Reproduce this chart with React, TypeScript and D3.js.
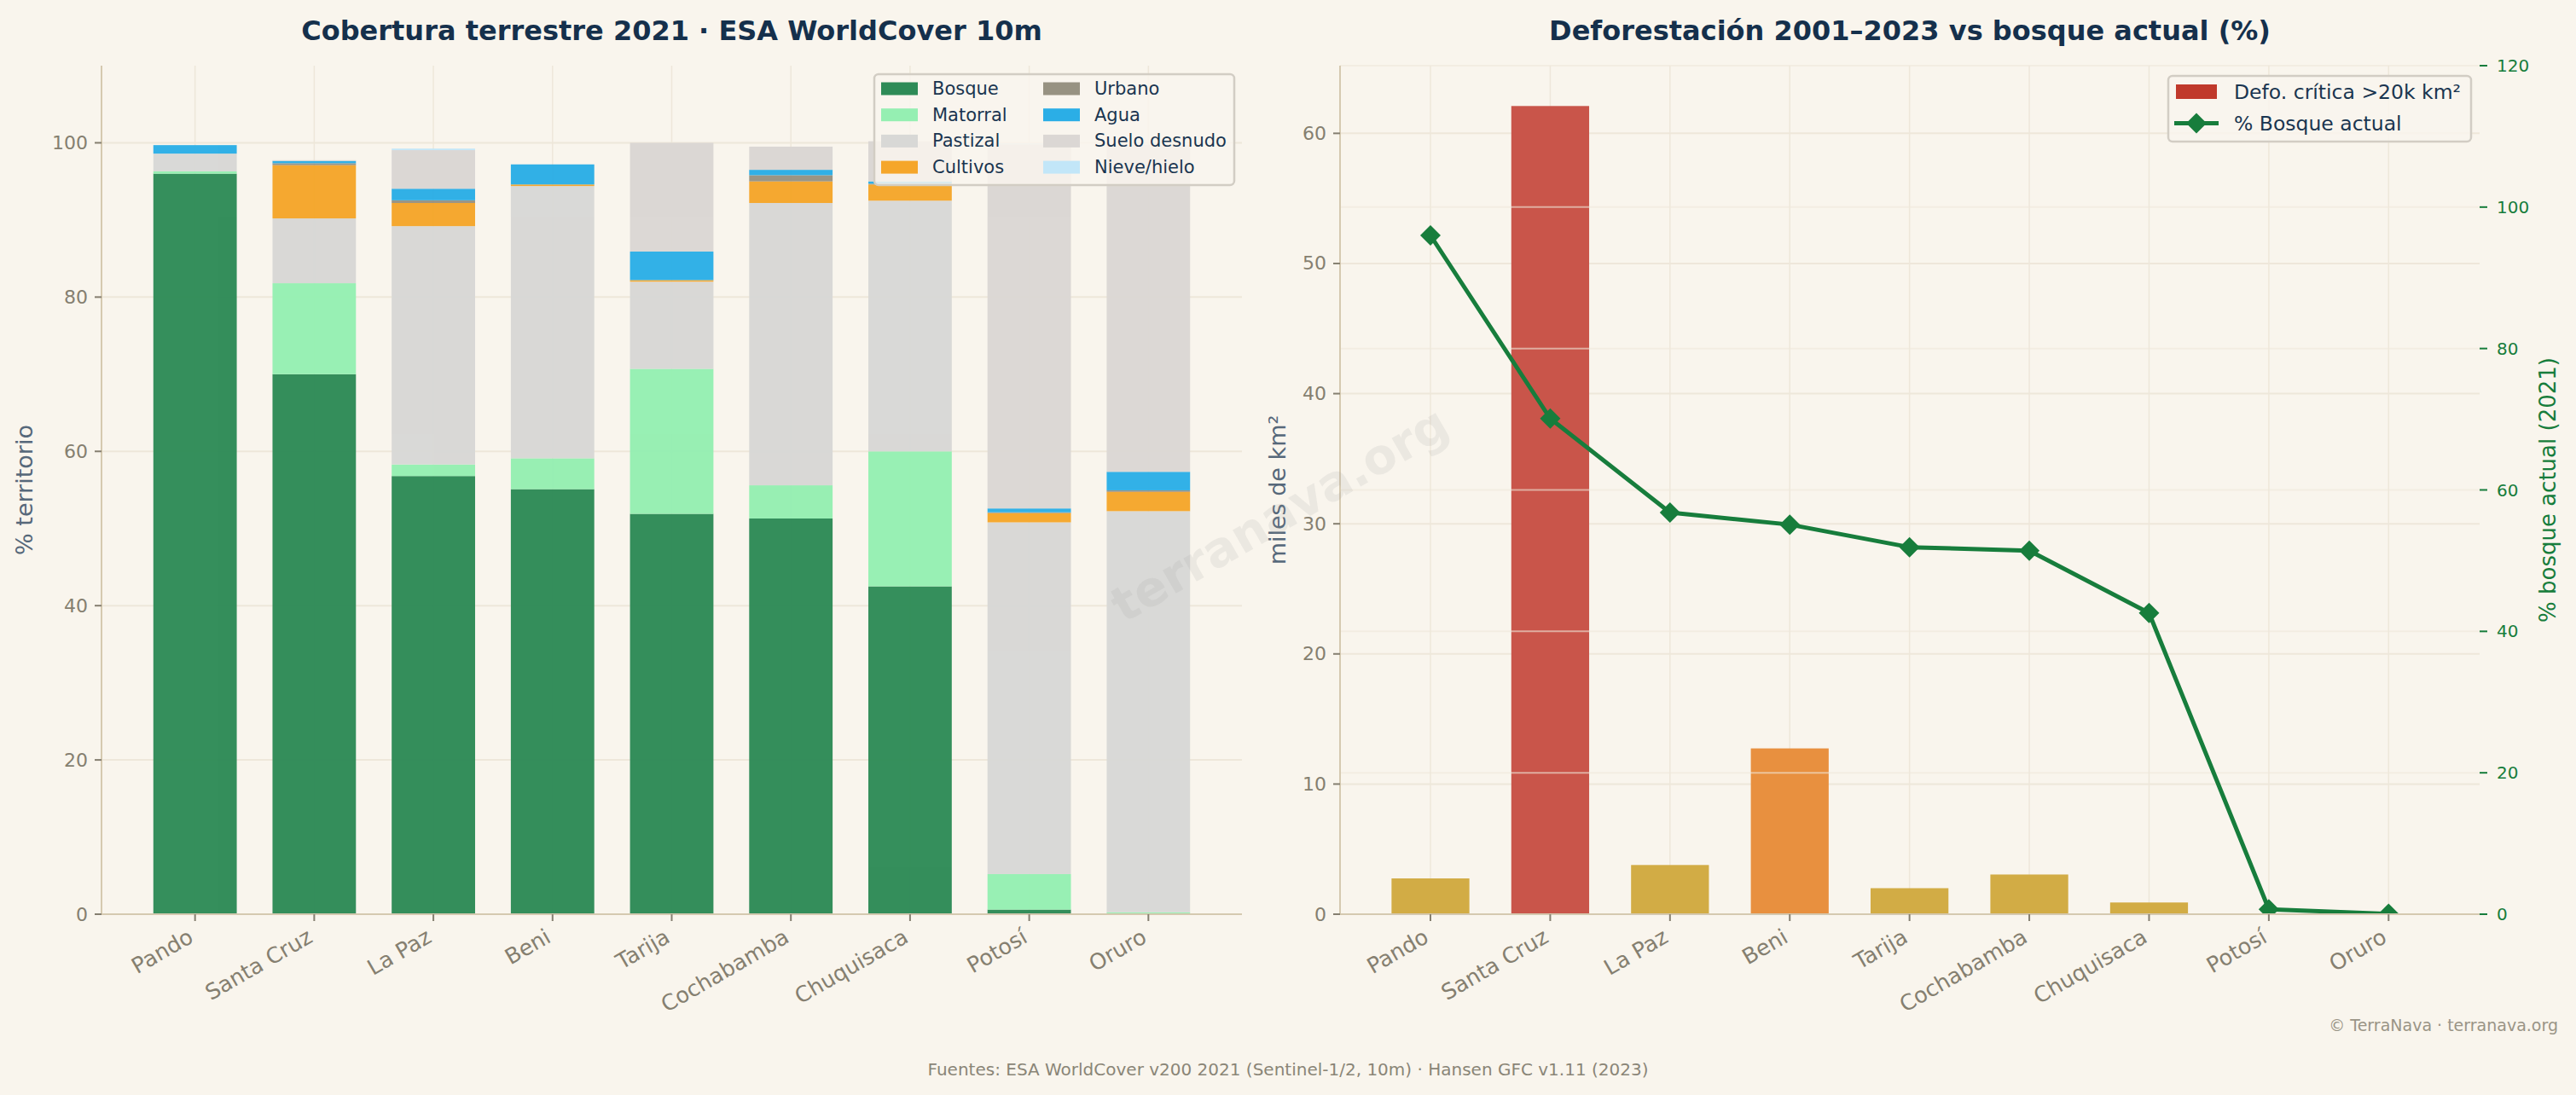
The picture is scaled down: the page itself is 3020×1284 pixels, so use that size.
import React from 'react';
import * as d3 from 'd3';

const categories = ['Pando', 'Santa Cruz', 'La Paz', 'Beni', 'Tarija', 'Cochabamba', 'Chuquisaca', 'Potosí', 'Oruro'];

// Land cover (% of territory), ESA WorldCover 2021
const bosque = [96.0, 70.0, 56.8, 55.1, 51.9, 51.3, 42.5, 0.6, 0.05];
const matorral = [0.3, 11.8, 1.5, 4.0, 18.8, 4.3, 17.5, 4.6, 0.2];
const pastizal = [2.3, 8.4, 30.9, 35.3, 11.3, 36.6, 32.5, 45.6, 52.0];
const cultivos = [0, 6.9, 3.0, 0.2, 0.2, 2.8, 2.1, 1.2, 2.5];
const urbano = [0, 0.25, 0.35, 0, 0, 0.8, 0.1, 0.1, 0.2];
const agua = [1.1, 0.3, 1.5, 2.6, 3.7, 0.7, 0.3, 0.5, 2.4];
const suelo = [0, 0.1, 5.0, 0, 14.1, 3.0, 5.2, 47.2, 42.4];
const nieve = [0, 0, 0.2, 0, 0, 0, 0, 0.1, 0];

const coverKeys = ['Bosque', 'Matorral', 'Pastizal', 'Cultivos', 'Urbano', 'Agua', 'Suelo desnudo', 'Nieve/hielo'];
const coverSeries = [bosque, matorral, pastizal, cultivos, urbano, agua, suelo, nieve];
const coverColors = ['#2e8b57', '#95efb2', '#d8d8d6', '#f5a62a', '#979282', '#2baee6', '#dbd7d4', '#c2e6f8'];

// Deforestation 2001-2023 (miles de km²) and current forest %
const defo = [2.75, 62.1, 3.78, 12.74, 2.0, 3.05, 0.9, 0.02, 0];
const bosqueActual = [96.0, 70.1, 56.8, 55.1, 51.9, 51.4, 42.6, 0.7, 0.05];

const leftTicks = [0, 20, 40, 60, 80, 100];
const rightTicksL = [0, 10, 20, 30, 40, 50, 60];
const rightTicksR = [0, 20, 40, 60, 80, 100, 120];

const FONT = 'DejaVu Sans';
const BG = '#f9f5ed';
const GRID = '#eee7da';
const SPINE = '#d5c9b0';
const TICK = '#857f70';
const NAVY = '#15304c';
const GREEN = '#177d3c';
const SLATE = '#56687a';

function defoColor(v: number) {
  if (v > 20) return '#c9554a';
  if (v > 10) return '#e8903f';
  return '#d2ac45';
}

export default function App() {
  const W = 3020, H = 1284;
  const L = { x0: 119, x1: 1456, y0: 77, y1: 1072 };
  const R = { x0: 1571, x1: 2907, y0: 77, y1: 1072 };
  const xl = d3.scaleLinear().domain([-0.785, 8.785]).range([L.x0, L.x1]);
  const yl = d3.scaleLinear().domain([0, 110]).range([L.y1, L.y0]);
  const xr = d3.scaleLinear().domain([-0.755, 8.76]).range([R.x0, R.x1]);
  const yr = d3.scaleLinear().domain([0, 65.2]).range([R.y1, R.y0]);
  const yr2 = d3.scaleLinear().domain([0, 120]).range([R.y1, R.y0]);

  const rows = categories.map((c, i) => {
    const o: any = { cat: c, idx: i };
    coverKeys.forEach((k, j) => (o[k] = coverSeries[j][i]));
    return o;
  });
  const stacked = d3.stack().keys(coverKeys)(rows as any);
  const bwL = (xl(0.35) - xl(-0.35));
  const bwR = (xr(0.325) - xr(-0.325));

  const line = d3.line<number>().x((_, i) => xr(i)).y((d) => yr2(d));
  const diamond = (s: number) => `M0,${-s}L${s},0L0,${s}L${-s},0Z`;

  const catLabel = (x: number, y: number, t: string, k: string) => (
    <text key={k} x={x} y={y} transform={`rotate(-30,${x},${y})`} textAnchor="end"
      dominantBaseline="hanging" fontSize={25.5} fill={TICK} fontFamily={FONT}>{t}</text>
  );

  return (
    <svg width={W} height={H} style={{ position: 'absolute', left: 0, top: 0 }} fontFamily={FONT}>
      <defs>
        <clipPath id="clipR"><rect x={R.x0} y={R.y0} width={R.x1 - R.x0} height={R.y1 - R.y0} /></clipPath>
      </defs>
      <rect width={W} height={H} fill={BG} />

      {/* ===== LEFT CHART ===== */}
      <text x={(L.x0 + L.x1) / 2} y={47} textAnchor="middle" fontSize={32} fontWeight="bold" fill={NAVY}>
        Cobertura terrestre 2021 · ESA WorldCover 10m
      </text>
      {leftTicks.map((t) => (
        <line key={'lg' + t} x1={L.x0} x2={L.x1} y1={yl(t)} y2={yl(t)} stroke={GRID} strokeWidth={2} />
      ))}
      {categories.map((c, i) => (
        <line key={'lv' + i} x1={xl(i)} x2={xl(i)} y1={L.y0} y2={L.y1} stroke={GRID} strokeWidth={1.5} />
      ))}
      {stacked.map((s, j) => (
        <g key={'s' + j} fill={coverColors[j]} opacity={0.97}>
          {s.map((d, i) => (d[1] - d[0] > 0 ? (
            <rect key={i} x={xl(i) - bwL / 2} width={bwL} y={yl(d[1])} height={yl(d[0]) - yl(d[1])} />
          ) : null))}
        </g>
      ))}
      <line x1={L.x0} x2={L.x0} y1={L.y0} y2={L.y1} stroke={SPINE} strokeWidth={2} />
      <line x1={L.x0} x2={L.x1} y1={L.y1} y2={L.y1} stroke={SPINE} strokeWidth={2} />
      {leftTicks.map((t) => (
        <g key={'lt' + t}>
          <line x1={L.x0 - 8} x2={L.x0} y1={yl(t)} y2={yl(t)} stroke={TICK} strokeWidth={2} />
          <text x={L.x0 - 16} y={yl(t)} textAnchor="end" dominantBaseline="central" fontSize={22} fill={TICK}>{t}</text>
        </g>
      ))}
      {categories.map((c, i) => (
        <g key={'lx' + i}>
          <line x1={xl(i)} x2={xl(i)} y1={L.y1} y2={L.y1 + 8} stroke={TICK} strokeWidth={2} />
          {catLabel(xl(i) - 10, L.y1 + 15, c, 'll' + i)}
        </g>
      ))}
      <text x={38} y={(L.y0 + L.y1) / 2} transform={`rotate(-90,38,${(L.y0 + L.y1) / 2})`} textAnchor="middle"
        fontSize={27} fill={SLATE}>% territorio</text>

      {/* left legend */}
      <g>
        <rect x={1025} y={87} width={422} height={130} rx={5} fill={BG} fillOpacity={0.85} stroke="#d2cdc4" strokeWidth={2.5} />
        {coverKeys.map((k, j) => {
          const col = Math.floor(j / 4), row = j % 4;
          const px = col === 0 ? 1033 : 1223;
          const tx = col === 0 ? 1093 : 1283;
          const cy = 104 + row * 30.7;
          return (
            <g key={'lgd' + j}>
              <rect x={px} y={cy - 7.5} width={43} height={15} fill={coverColors[j]} />
              <text x={tx} y={cy} dominantBaseline="central" fontSize={21} fill="#1a3550">{k}</text>
            </g>
          );
        })}
      </g>

      {/* ===== RIGHT CHART ===== */}
      <text x={(R.x0 + R.x1) / 2} y={47} textAnchor="middle" fontSize={32} fontWeight="bold" fill={NAVY}>
        Deforestación 2001–2023 vs bosque actual (%)
      </text>
      {rightTicksL.map((t) => (
        <line key={'rg' + t} x1={R.x0} x2={R.x1} y1={yr(t)} y2={yr(t)} stroke={GRID} strokeWidth={2} />
      ))}
      {categories.map((c, i) => (
        <line key={'rv' + i} x1={xr(i)} x2={xr(i)} y1={R.y0} y2={R.y1} stroke={GRID} strokeWidth={1.5} />
      ))}
      {defo.map((v, i) => (v > 0 ? (
        <rect key={'db' + i} x={xr(i) - bwR / 2} width={bwR} y={yr(v)} height={yr(0) - yr(v)} fill={defoColor(v)} />
      ) : null))}
      {rightTicksR.map((t) => (
        <line key={'rg2' + t} x1={R.x0} x2={R.x1} y1={yr2(t)} y2={yr2(t)} stroke={GRID} strokeOpacity={0.6} strokeWidth={2} />
      ))}
      <g clipPath="url(#clipR)">
        <path d={line(bosqueActual) || ''} fill="none" stroke={GREEN} strokeWidth={5} strokeLinejoin="round" />
        {bosqueActual.map((v, i) => (
          <path key={'mk' + i} d={diamond(12)} transform={`translate(${xr(i)},${yr2(v)})`} fill={GREEN} />
        ))}
      </g>
      <line x1={R.x0} x2={R.x0} y1={R.y0} y2={R.y1} stroke={SPINE} strokeWidth={2} />
      <line x1={R.x0} x2={R.x1} y1={R.y1} y2={R.y1} stroke={SPINE} strokeWidth={2} />
      {rightTicksL.map((t) => (
        <g key={'rtl' + t}>
          <line x1={R.x0 - 8} x2={R.x0} y1={yr(t)} y2={yr(t)} stroke={TICK} strokeWidth={2} />
          <text x={R.x0 - 16} y={yr(t)} textAnchor="end" dominantBaseline="central" fontSize={22} fill={TICK}>{t}</text>
        </g>
      ))}
      {rightTicksR.map((t) => (
        <g key={'rtr' + t}>
          <line x1={R.x1} x2={R.x1 + 9} y1={yr2(t)} y2={yr2(t)} stroke={GREEN} strokeWidth={2} />
          <text x={R.x1 + 20} y={yr2(t)} textAnchor="start" dominantBaseline="central" fontSize={20} fill={GREEN}>{t}</text>
        </g>
      ))}
      {categories.map((c, i) => (
        <g key={'rx' + i}>
          <line x1={xr(i)} x2={xr(i)} y1={R.y1} y2={R.y1 + 8} stroke={TICK} strokeWidth={2} />
          {catLabel(xr(i) - 10, R.y1 + 15, c, 'rl' + i)}
        </g>
      ))}
      <text x={1507} y={(R.y0 + R.y1) / 2} transform={`rotate(-90,1507,${(R.y0 + R.y1) / 2})`} textAnchor="middle"
        fontSize={27} fill={SLATE}>miles de km²</text>
      <text x={2996} y={(R.y0 + R.y1) / 2} transform={`rotate(-90,2996,${(R.y0 + R.y1) / 2})`} textAnchor="middle"
        fontSize={26} fill={GREEN}>% bosque actual (2021)</text>

      {/* right legend */}
      <g>
        <rect x={2542} y={89} width={355} height={77} rx={5} fill={BG} fillOpacity={0.85} stroke="#d2cdc4" strokeWidth={2.5} />
        <rect x={2551} y={99} width={48} height={17} fill="#c0392b" />
        <text x={2619} y={107.5} dominantBaseline="central" fontSize={23.5} fill="#1a3550">Defo. crítica &gt;20k km²</text>
        <line x1={2549} x2={2601} y1={144.6} y2={144.6} stroke={GREEN} strokeWidth={5} />
        <path d={diamond(12)} transform="translate(2575,144.6)" fill={GREEN} />
        <text x={2619} y={144.6} dominantBaseline="central" fontSize={23.5} fill="#1a3550">% Bosque actual</text>
      </g>

      {/* watermark */}
      <text x={1510} y={620} transform="rotate(-30,1510,620)" textAnchor="middle" fontSize={57} fontWeight="bold"
        fill="#9a9a9a" fillOpacity={0.14}>terranava.org</text>

      {/* footer */}
      <text x={2999} y={1209} textAnchor="end" fontSize={19} fill="#9a9486">© TerraNava · terranava.org</text>
      <text x={1510} y={1261} textAnchor="middle" fontSize={20} fill="#8a8577">
        Fuentes: ESA WorldCover v200 2021 (Sentinel-1/2, 10m) · Hansen GFC v1.11 (2023)
      </text>
    </svg>
  );
}
